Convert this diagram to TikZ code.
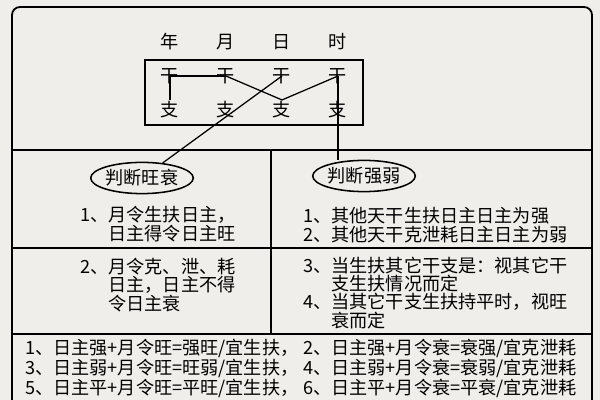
\documentclass[tikz,border=0pt]{standalone}
\usepackage{fontspec}
\setmainfont{Noto Sans CJK SC}
\usetikzlibrary{shapes.geometric}
\definecolor{paper}{RGB}{239,238,234}

\begin{document}
\begin{tikzpicture}[x=0.025cm,y=-0.025cm,
  every node/.style={font=\fontsize{12.9pt}{11.9pt}\selectfont},
  frame/.style={line width=1.3pt},
  link/.style={line width=0.9pt},
  stem/.style={inner sep=1pt},
  tag/.style={ellipse,draw=black,line width=1.1pt,inner sep=0pt,minimum width=2.45cm,minimum height=0.78cm},
  cell/.style={anchor=west,align=left,inner sep=0pt}]
\useasboundingbox (0,0) rectangle (600,400);
\fill[paper] (0,0) rectangle (600,400);
% frame and table lines
\draw[frame,rounded corners=0.2cm] (12,404) -- (12,7) -- (592,7) -- (592,404);
\draw[frame] (12,150) -- (592,150);
\draw[frame] (12,248) -- (592,248);
\draw[frame] (12,334) -- (592,334);
\draw[frame] (271,150) -- (271,334);
\draw[frame] (145,60) rectangle (363,125);
% pillars
\node at (170,42) (nian) {年};
\node at (226,42) (yue) {月};
\node at (282,42) (ri) {日};
\node at (338,42) (shi) {时};
\node at (170,76) (g1) [stem] {干};
\node at (226,76) (g2) [stem] {干};
\node at (282,76) (g3) [stem] {干};
\node at (338,76) (g4) [stem] {干};
\node at (170,110) (z1) [stem] {支};
\node at (226,110) (z2) [stem] {支};
\node at (282,110) (z3) [stem] {支};
\node at (338,110) (z4) [stem] {支};
% judgements
\node at (142,178) (wangshuai) [tag] {判断旺衰};
\node at (364,176) (qiangruo) [tag] {判断强弱};
\node at (80,224) (rule1) [cell] {1、月令生扶日主，\\\hphantom{1、}日主得令日主旺};
\node at (80,285) (rule2) [cell] {2、月令克、泄、耗\\\hphantom{2、}日主，日主不得\\\hphantom{2、}令日主衰};
\node at (303,225) (rule3) [cell] {1、其他天干生扶日主日主为强\\2、其他天干克泄耗日主日主为弱};
\node at (303,293) (rule4) [cell] {3、当生扶其它干支是：视其它干\\\hphantom{3、}支生扶情况而定\\4、当其它干支生扶持平时，视旺\\\hphantom{4、}衰而定};
\node at (25,368) (sum1) [cell] {1、日主强+月令旺=强旺/宜生扶，\\3、日主弱+月令旺=旺弱/宜生扶，\\5、日主平+月令旺=平旺/宜生扶，};
\node at (303,368) (sum2) [cell] {2、日主强+月令衰=衰强/宜克泄耗\\4、日主弱+月令衰=衰弱/宜克泄耗\\6、日主平+月令衰=平衰/宜克泄耗};
% links
\draw[link] (g1.center) -- (g2.center);
\draw[link] (g1.center) -- (z1.north);
\draw[link] (g2.center) -- (z3.north);
\draw[link] (g4.center) -- (z3.north);
\draw[link] (g3.center) -- (wangshuai);
\draw[link] (g4.center) -- (g4.center |- qiangruo.north);
\end{tikzpicture}
\end{document}
